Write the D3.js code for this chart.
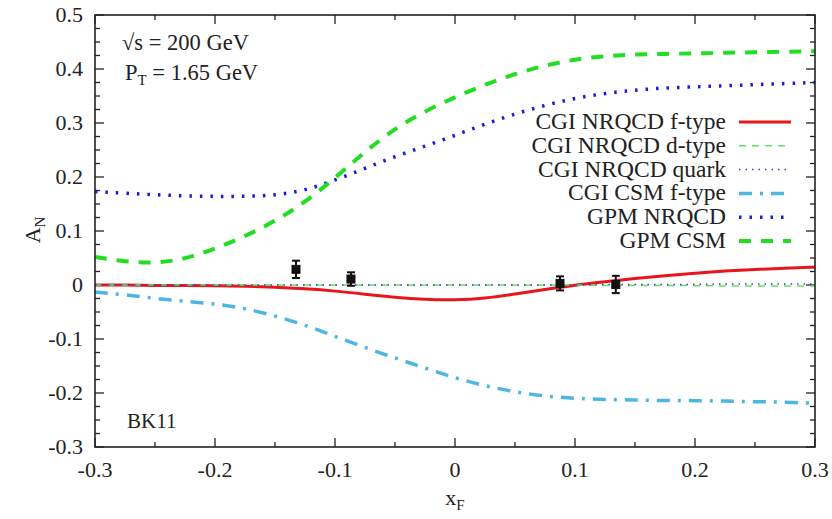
<!DOCTYPE html>
<meta charset="utf-8">
<style>
body { margin:0; background:#fff; }
svg text { font-family: "Liberation Serif", "DejaVu Serif", serif; fill:#222; }
</style>
<body>
<div id="chart"></div>
<script src="https://d3js.org/d3.v7.min.js"></script>
<script>
// x_F grid shared by all curves
var xF = [-0.3,-0.275,-0.25,-0.225,-0.2,-0.175,-0.15,-0.125,-0.1,-0.075,-0.05,-0.025,0,
          0.025,0.05,0.075,0.1,0.125,0.15,0.175,0.2,0.225,0.25,0.275,0.3];

var cgiNrqcdF = [0,0,-0.001,-0.001,-0.001,-0.002,-0.004,-0.007,-0.011,-0.017,-0.023,-0.027,-0.028,
                 -0.025,-0.017,-0.008,0.0,0.006,0.012,0.017,0.022,0.026,0.029,0.031,0.033];
var cgiNrqcdD = [0,0,0,0,0,0,0,0,0,0,0,0,0,0,0,0,0,-0.001,-0.001,-0.001,-0.001,-0.002,-0.002,-0.002,-0.002];
var cgiNrqcdQ = [0,0,0,0,0,0,0,0,0,0,0,0,0,0,0,0,0,0.001,0.001,0.001,0.001,0.002,0.002,0.002,0.002];
var cgiCsmF   = [-0.013,-0.018,-0.025,-0.030,-0.035,-0.043,-0.057,-0.074,-0.095,-0.116,-0.135,-0.154,-0.172,
                 -0.187,-0.198,-0.206,-0.210,-0.212,-0.213,-0.214,-0.214,-0.215,-0.216,-0.217,-0.219];
var gpmNrqcd  = [0.173,0.170,0.167,0.165,0.164,0.164,0.166,0.175,0.194,0.216,0.238,0.257,0.277,
                 0.298,0.317,0.333,0.346,0.355,0.361,0.365,0.367,0.369,0.371,0.373,0.375];
var gpmCsm    = [0.052,0.043,0.040,0.048,0.067,0.090,0.118,0.153,0.198,0.247,0.290,0.322,0.348,
                 0.371,0.391,0.407,0.418,0.424,0.427,0.428,0.429,0.430,0.431,0.432,0.433];

// measured points
var dataX   = [-0.1325,-0.0867,0.0875,0.134];
var dataY   = [0.029,0.011,0.003,0.001];
var dataErr = [0.016,0.0125,0.013,0.016];

var xTicks = [-0.3,-0.2,-0.1,0,0.1,0.2,0.3];
var yTicks = [-0.3,-0.2,-0.1,0,0.1,0.2,0.3,0.4,0.5];

var width = 832, height = 519;
var margin = {left:95, right:17, top:15, bottom:72};

var svg = d3.select("#chart").append("svg").attr("width", width).attr("height", height)
  .attr("font-family", "'Liberation Serif', 'DejaVu Serif', serif");

var x = d3.scaleLinear().domain([-0.3,0.3]).range([margin.left, width - margin.right]);
var y = d3.scaleLinear().domain([-0.3,0.5]).range([height - margin.bottom, margin.top]);

var x0 = x.range()[0], x1 = x.range()[1], y0 = y.range()[0], y1 = y.range()[1];

// ticks, inward on all four sides
var g = svg.append("g").attr("stroke", "#222").attr("stroke-width", 1.3);
d3.range(-0.3, 0.3001, 0.05).forEach(function(v, i) {
  var len = (i % 2 == 0) ? 9 : 5;
  g.append("line").attr("x1", x(v)).attr("x2", x(v)).attr("y1", y0).attr("y2", y0 - len);
  g.append("line").attr("x1", x(v)).attr("x2", x(v)).attr("y1", y1).attr("y2", y1 + len);
});
d3.range(-0.3, 0.5001, 0.025).forEach(function(v, i) {
  var len = (i % 4 == 0) ? 9 : 5;
  g.append("line").attr("x1", x0).attr("x2", x0 + len).attr("y1", y(v)).attr("y2", y(v));
  g.append("line").attr("x1", x1).attr("x2", x1 - len).attr("y1", y(v)).attr("y2", y(v));
});

// tick labels
svg.append("g").selectAll("text").data(xTicks).enter().append("text")
  .attr("x", function(d) { return x(d); }).attr("y", y0 + 30)
  .attr("text-anchor", "middle").attr("font-size", 22)
  .text(function(d) { return +d.toFixed(1); });
svg.append("g").selectAll("text").data(yTicks).enter().append("text")
  .attr("x", x0 - 12).attr("y", function(d) { return y(d) + 7; })
  .attr("text-anchor", "end").attr("font-size", 22)
  .text(function(d) { return +d.toFixed(1); });

// axis titles
var xt = svg.append("text").attr("x", x(0)).attr("y", 505).attr("text-anchor", "middle").attr("font-size", 22);
xt.append("tspan").text("x");
xt.append("tspan").attr("font-size", 15).attr("dy", 5).text("F");
var yt = svg.append("text").attr("transform", "translate(40,230) rotate(-90)").attr("text-anchor", "middle").attr("font-size", 22);
yt.append("tspan").text("A");
yt.append("tspan").attr("font-size", 15).attr("dy", 5).text("N");

// curves
var series = [
  {name:"CGI NRQCD f-type", v:cgiNrqcdF, color:"#e8161c", w:3,   dash:null},
  {name:"CGI NRQCD d-type", v:cgiNrqcdD, color:"#5fe25f", w:1.5, dash:"7,6"},
  {name:"CGI NRQCD quark",  v:cgiNrqcdQ, color:"#3c3cc0", w:1.5, dash:"1.5,5"},
  {name:"CGI CSM f-type",   v:cgiCsmF,   color:"#4db6e2", w:3.5, dash:"13,8,3,8"},
  {name:"GPM NRQCD",        v:gpmNrqcd,  color:"#1a1ad8", w:3.5, dash:"2.5,8"},
  {name:"GPM CSM",          v:gpmCsm,    color:"#22dd22", w:4,   dash:"12,10"}
];

var line = d3.line()
  .x(function(d) { return x(d[0]); })
  .y(function(d) { return y(d[1]); })
  .curve(d3.curveBasis);

series.forEach(function(s) {
  svg.append("path")
    .datum(xF.map(function(v, i) { return [v, s.v[i]]; }))
    .attr("d", line)
    .attr("fill", "none")
    .attr("stroke", s.color)
    .attr("stroke-width", s.w)
    .attr("stroke-dasharray", s.dash);
});

// data points with error bars
var pts = svg.append("g").attr("stroke", "#111").attr("fill", "#111");
dataX.forEach(function(d, i) {
  var cx = x(d);
  pts.append("line").attr("x1", cx).attr("x2", cx)
    .attr("y1", y(dataY[i] + dataErr[i])).attr("y2", y(dataY[i] - dataErr[i])).attr("stroke-width", 2);
  [dataY[i] + dataErr[i], dataY[i] - dataErr[i]].forEach(function(e) {
    pts.append("line").attr("x1", cx - 4).attr("x2", cx + 4).attr("y1", y(e)).attr("y2", y(e)).attr("stroke-width", 2);
  });
  pts.append("rect").attr("x", cx - 4).attr("y", y(dataY[i]) - 4).attr("width", 8).attr("height", 8);
});

// legend
var leg = svg.append("g");
series.forEach(function(s, i) {
  var ly = 122 + i * 23.8;
  leg.append("text").attr("x", 726).attr("y", ly + 7).attr("text-anchor", "end").attr("font-size", 23.5).text(s.name);
  leg.append("line").attr("x1", 739).attr("x2", 791).attr("y1", ly).attr("y2", ly)
    .attr("stroke", s.color).attr("stroke-width", s.w).attr("stroke-dasharray", s.dash);
});

// annotations
svg.append("text").attr("x", 122).attr("y", 50).attr("font-size", 22.5).text("\u221As = 200 GeV");
var pt = svg.append("text").attr("x", 125).attr("y", 80).attr("font-size", 22.5);
pt.append("tspan").text("P");
pt.append("tspan").attr("font-size", 15).attr("dy", 5).text("T");
pt.append("tspan").attr("dy", -5).text(" = 1.65 GeV");
svg.append("text").attr("x", 127).attr("y", 428).attr("font-size", 21).text("BK11");

// frame
svg.append("rect").attr("x", x0).attr("y", y1).attr("width", x1 - x0).attr("height", y0 - y1)
  .attr("fill", "none").attr("stroke", "#222").attr("stroke-width", 1.6);
</script>
</body>
